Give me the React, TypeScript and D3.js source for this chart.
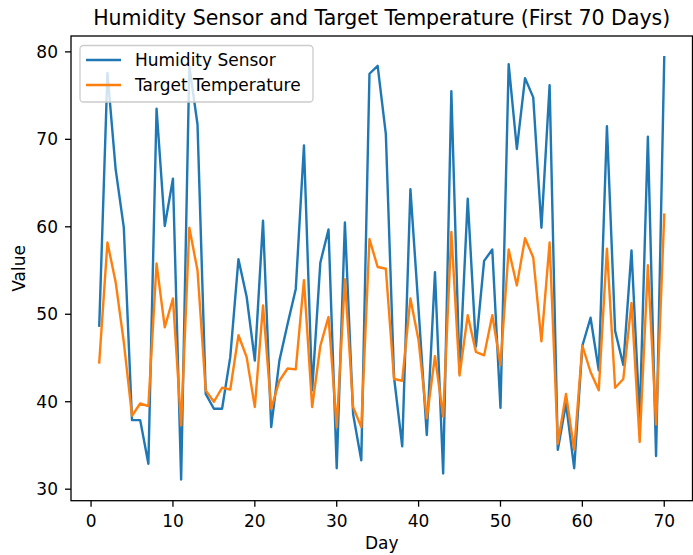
import React from "react";
import * as d3 from "d3";

const humidity = [
  48.7, 77.6, 66.6, 59.9, 37.9, 37.9, 32.9, 73.5, 60.1, 65.5,
  31.1, 78.4, 71.7, 40.9, 39.2, 39.2, 45.1, 56.3, 52.0, 44.7,
  60.7, 37.1, 44.7, 48.9, 52.9, 69.3, 41.3, 55.9, 59.7, 32.4,
  60.5, 38.6, 33.3, 77.5, 78.4, 70.6, 42.8, 34.9, 64.3, 50.5,
  36.2, 54.8, 31.8, 75.5, 43.3, 63.2, 46.3, 56.1, 57.4, 39.3,
  78.6, 68.9, 77.0, 74.8, 59.9, 76.2, 34.5, 39.8, 32.4, 46.4,
  49.6, 43.6, 71.5, 48.1, 44.2, 57.3, 38.0, 70.3, 33.8, 79.4,
];

const temperature = [
  44.5, 58.2, 53.7, 46.8, 38.4, 39.8, 39.5, 55.8, 48.5, 51.8,
  37.3, 59.9, 55.0, 41.3, 40.0, 41.6, 41.4, 47.6, 45.1, 39.4,
  51.0, 39.2, 42.4, 43.8, 43.7, 53.9, 39.4, 46.4, 49.7, 37.1,
  54.0, 39.4, 37.1, 58.6, 55.4, 55.2, 42.6, 42.4, 51.8, 47.0,
  38.1, 45.2, 38.3, 59.4, 43.0, 49.9, 45.7, 45.3, 49.9, 44.2,
  57.4, 53.3, 58.7, 56.5, 46.9, 58.2, 35.2, 40.9, 34.5, 46.4,
  43.4, 41.3, 57.5, 41.6, 42.6, 51.3, 35.4, 55.6, 37.4, 61.4,
];

const days = humidity.map((_, i) => i + 1);
const xTicks = [0, 10, 20, 30, 40, 50, 60, 70];
const yTicks = [30, 40, 50, 60, 70, 80];
const seriesNames = ["Humidity Sensor", "Target Temperature"];
const colors = ["#1f77b4", "#ff7f0e"];

const W = 693;
const H = 555;
const left = 71;
const right = 692.5;
const top = 36;
const bottom = 500.7;
const FONT = "DejaVu Sans, sans-serif";

export default function App() {
  const xExt = d3.extent(days) as [number, number];
  const xPad = (xExt[1] - xExt[0]) * 0.05;
  const x = d3.scaleLinear().domain([xExt[0] - xPad, xExt[1] + xPad]).range([left, right]);
  const all = humidity.concat(temperature);
  const yExt = d3.extent(all) as [number, number];
  const yPad = (yExt[1] - yExt[0]) * 0.05;
  const y = d3.scaleLinear().domain([yExt[0] - yPad, yExt[1] + yPad]).range([bottom, top]);

  const line = d3
    .line<number>()
    .x((_, i) => x(days[i]))
    .y((d) => y(d));

  const series = [humidity, temperature];

  return (
    <svg
      width={W}
      height={H}
      style={{ position: "absolute", left: 0, top: 0, background: "#fff" }}
      fontFamily={FONT}
    >
      <rect x={0} y={0} width={W} height={H} fill="#fff" />
      <text x={(left + right) / 2} y={25} textAnchor="middle" fontSize={20.5} fill="#000">
        Humidity Sensor and Target Temperature (First 70 Days)
      </text>

      <g>
        {series.map((s, k) => (
          <path
            key={k}
            d={line(s) || ""}
            fill="none"
            stroke={colors[k]}
            strokeWidth={2.4}
            strokeLinejoin="round"
            strokeLinecap="square"
          />
        ))}
      </g>

      <rect
        x={left}
        y={top}
        width={right - left}
        height={bottom - top}
        fill="none"
        stroke="#000"
        strokeWidth={1.3}
      />

      {xTicks.map((t) => (
        <g key={"x" + t}>
          <line x1={x(t)} x2={x(t)} y1={bottom} y2={bottom + 6} stroke="#000" strokeWidth={1.3} />
          <text x={x(t)} y={527} textAnchor="middle" fontSize={17} fill="#000">
            {t}
          </text>
        </g>
      ))}
      {yTicks.map((t) => (
        <g key={"y" + t}>
          <line x1={left - 6} x2={left} y1={y(t)} y2={y(t)} stroke="#000" strokeWidth={1.3} />
          <text x={58} y={y(t)} dy="0.36em" textAnchor="end" fontSize={17} fill="#000">
            {t}
          </text>
        </g>
      ))}

      <text x={(left + right) / 2} y={549} textAnchor="middle" fontSize={17} fill="#000">
        Day
      </text>
      <text
        transform={`translate(25, ${(top + bottom) / 2}) rotate(-90)`}
        textAnchor="middle"
        fontSize={17}
        fill="#000"
      >
        Value
      </text>

      <g>
        <rect
          x={80}
          y={45.5}
          width={233}
          height={56.5}
          rx={3.5}
          fill="#fff"
          fillOpacity={0.8}
          stroke="#cccccc"
          strokeWidth={1.3}
        />
        {seriesNames.map((n, k) => (
          <g key={n}>
            <line
              x1={86}
              x2={121}
              y1={60 + k * 25}
              y2={60 + k * 25}
              stroke={colors[k]}
              strokeWidth={2.4}
            />
            <text x={135} y={65.5 + k * 25} fontSize={17} fill="#000">
              {n}
            </text>
          </g>
        ))}
      </g>
    </svg>
  );
}
